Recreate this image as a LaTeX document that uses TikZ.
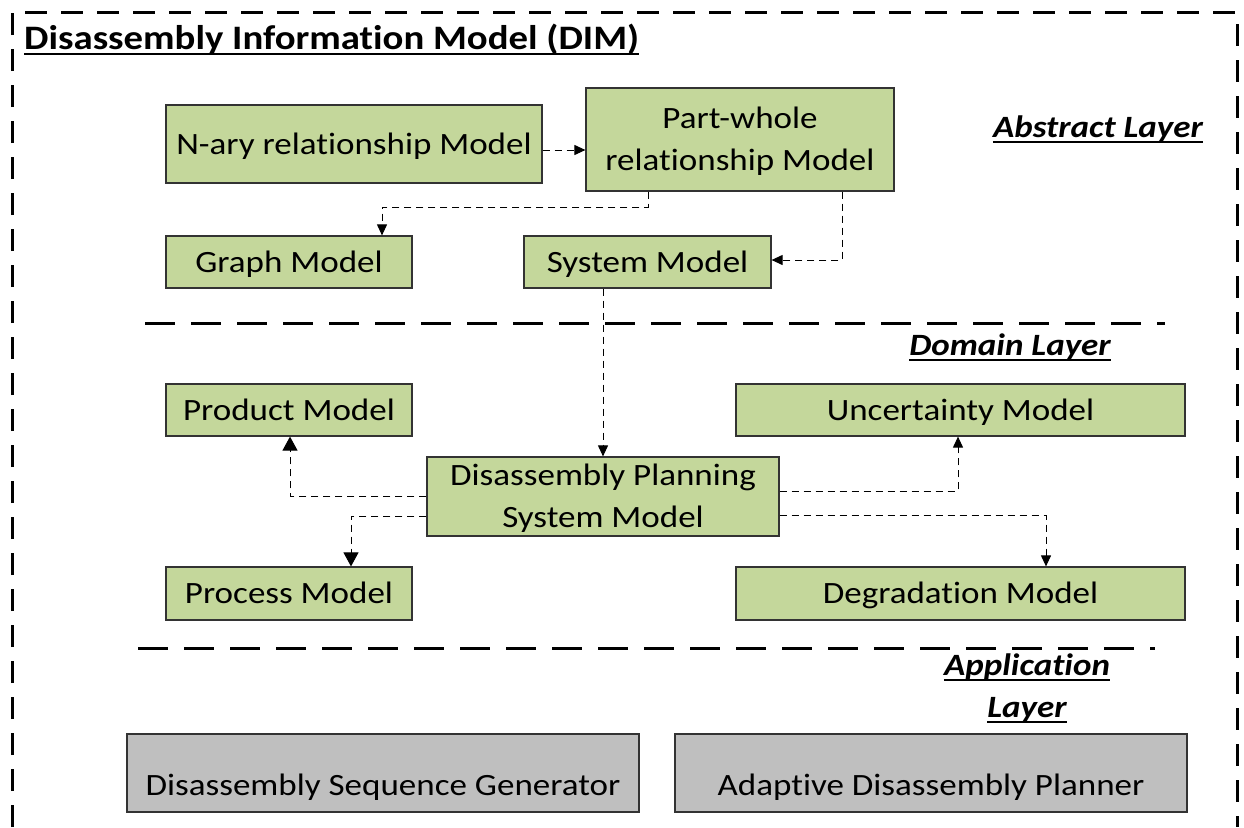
\documentclass[tikz,border=0pt]{standalone}
\usepackage{fontspec}
\setmainfont{Carlito}[FakeStretch=1.13,Ligatures=NoCommon]
\usetikzlibrary{arrows.meta,calc}
\definecolor{boxgreen}{HTML}{C4D79B}
\definecolor{boxgray}{HTML}{BFBFBF}
\definecolor{edge}{HTML}{333333}
\tikzset{
  gbox/.style={draw=edge,line width=1.2pt,fill=boxgreen,inner sep=0pt,align=center,font=\fontsize{31}{42}\selectfont},
  ybox/.style={draw=edge,line width=1.2pt,fill=boxgray,inner sep=0pt,align=center,font=\fontsize{31}{42}\selectfont},
  oneline/.style={text height=27pt,text depth=7pt},
  twoline/.style={text height=68pt,text depth=7pt},
  lowline/.style={text height=51pt,text depth=7pt},
  conn/.style={line width=1pt,dash pattern=on 7pt off 5pt,-{Triangle[length=11pt,width=10pt]}},
  bigconn/.style={line width=1pt,dash pattern=on 7pt off 5pt,-{Triangle[length=14pt,width=15pt]}},
  sep/.style={line width=3pt,dash pattern=on 30pt off 16pt},
  outer/.style={line width=3pt,dash pattern=on 22pt off 14pt},
  layerlbl/.style={inner sep=0pt,font=\fontsize{31}{42}\selectfont\bfseries\itshape},
  uline/.style={line width=2.5pt}
}
\begin{document}
\begin{tikzpicture}[x=1pt,y=-1pt]
\useasboundingbox (0,0) rectangle (1244,827);
% outer frame
\draw[outer] (12,827) -- (12,12) -- (1237,12) -- (1237,827);
% title
\node[inner sep=0pt,anchor=base west,font=\fontsize{34.3}{40}\selectfont\bfseries] (title) at (24,49) {Disassembly Information Model (DIM)};
\draw[uline] ($(title.base west)+(0,5)$) -- ($(title.base east)+(0,5)$);
% layer labels
\node[layerlbl,anchor=base] (abs) at (1098,137) {Abstract Layer};
\draw[uline] ($(abs.base west)+(0,5)$) -- ($(abs.base east)+(0,5)$);
\node[layerlbl,anchor=base] (dom) at (1010,355) {Domain Layer};
\draw[uline] ($(dom.base west)+(0,5)$) -- ($(dom.base east)+(0,5)$);
\node[layerlbl,anchor=base] (app1) at (1027,675) {Application};
\draw[uline] ($(app1.base west)+(0,5)$) -- ($(app1.base east)+(0,5)$);
\node[layerlbl,anchor=base] (app2) at (1027,717) {Layer};
\draw[uline] ($(app2.base west)+(0,5)$) -- ($(app2.base east)+(0,5)$);
% separators
\draw[sep] (145,323) -- (1165,323);
\draw[sep] (138,648) -- (1155,648);
% boxes
\node[gbox,oneline,minimum width=376pt,minimum height=78pt] (nary) at (354,144) {N-ary relationship Model};
\node[gbox,twoline,minimum width=308pt,minimum height=103pt] (pw) at (740,139.5) {Part-whole\\relationship Model};
\node[gbox,oneline,minimum width=246pt,minimum height=52pt] (graph) at (289,262) {Graph Model};
\node[gbox,oneline,minimum width=247pt,minimum height=52pt] (sys) at (647.5,262) {System Model};
\node[gbox,oneline,minimum width=246pt,minimum height=52pt] (prod) at (289,410) {Product Model};
\node[gbox,oneline,minimum width=449pt,minimum height=52pt] (unc) at (960.5,410) {Uncertainty Model};
\node[gbox,twoline,minimum width=352pt,minimum height=79pt] (dpsm) at (603,496.5) {Disassembly Planning\\System Model};
\node[gbox,oneline,minimum width=246pt,minimum height=53pt] (proc) at (289,593.5) {Process Model};
\node[gbox,oneline,minimum width=449pt,minimum height=53pt] (deg) at (960.5,593.5) {Degradation Model};
\node[ybox,lowline,minimum width=512pt,minimum height=78pt] (dsg) at (383,773) {Disassembly Sequence Generator};
\node[ybox,lowline,minimum width=512pt,minimum height=78pt] (adp) at (931,773) {Adaptive Disassembly Planner};
% connectors
\draw[conn] (nary.east |- 0,150) -- (pw.west |- 0,150);
\draw[conn] (pw.south -| 648,0) |- (382,207) -- (graph.north -| 382,0);
\draw[conn] (pw.south -| 842,0) |- (sys.east |- 0,260);
\draw[conn] (sys.south -| 603,0) -- (dpsm.north -| 603,0);
\draw[bigconn] (dpsm.west |- 0,496) -| (prod.south -| 290,0);
\draw[bigconn] (dpsm.west |- 0,516) -| (proc.north -| 351,0);
\draw[conn] (dpsm.east |- 0,491) -| (unc.south -| 958,0);
\draw[conn] (dpsm.east |- 0,515) -| (deg.north -| 1046,0);
\end{tikzpicture}
\end{document}
